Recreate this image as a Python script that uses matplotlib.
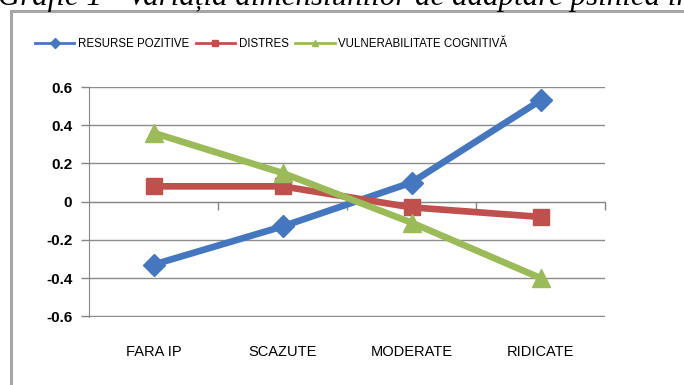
import matplotlib
matplotlib.use("Agg")
import matplotlib.pyplot as plt
from matplotlib.patches import Rectangle
from matplotlib.lines import Line2D
import matplotlib.transforms as mtransforms

categories = ["FARA IP", "SCAZUTE", "MODERATE", "RIDICATE"]
resurse_pozitive = [-0.33, -0.13, 0.10, 0.53]
distres = [0.08, 0.08, -0.03, -0.08]
vulnerabilitate = [0.36, 0.15, -0.11, -0.40]
series_names = ["RESURSE POZITIVE", "DISTRES", "VULNERABILITATE COGNITIVĂ"]
y_ticks = [-0.6, -0.4, -0.2, 0, 0.2, 0.4, 0.6]
title = "Grafic 1 - Variația dimensiunilor de adaptare psihică în funcție de"

plt.rcParams["font.family"] = ["Liberation Sans", "DejaVu Sans"]

fig = plt.figure(figsize=(6.84, 3.85), dpi=100)
W, H = 684, 385

# chart frame, runs off the right and bottom edges
fig.patches.append(Rectangle((11 / W, -0.1), 1.2, 1 - 11 / H + 0.1,
                             transform=fig.transFigure, fill=False,
                             edgecolor="#a6a6a6", lw=2.2))

# caption above the chart, only its lower half fits
fig.text(-2 / W, 1 - 5 / H, title, family="Liberation Serif", style="italic",
         fontsize=22.2, va="baseline", ha="left", color="black")

ax = fig.add_axes([89 / W, 1 - 317 / H, (605 - 89) / W, (317 - 87) / H])
x = list(range(len(categories)))

styles = [
    (resurse_pozitive, "#4577c0", "D", 11),
    (distres, "#c0504d", "s", 12),
    (vulnerabilitate, "#9bbb59", "^", 13),
]
handles = []
for (vals, col, mk, ms), name in zip(styles, series_names):
    ax.plot(x, vals, color=col, lw=4.8, marker=mk, markersize=ms,
            markeredgecolor=col, solid_capstyle="round", zorder=3)
    handles.append(Line2D([], [], color=col, lw=2, marker=mk, markersize=5,
                          markeredgecolor=col, label=name))

ax.set_xlim(-0.5, 3.5)
ax.set_ylim(-0.604, 0.6)
ax.set_yticks(y_ticks)
ax.set_yticklabels([f"{v:g}" for v in y_ticks], fontsize=11, fontweight="bold")
ax.tick_params(axis="y", length=6, width=1, color="#868686", pad=6)
ax.yaxis.grid(True, color="#8c8c8c", lw=1)
ax.set_axisbelow(True)

for side in ("top", "right"):
    ax.spines[side].set_visible(False)
ax.spines["left"].set_color("#868686")
ax.spines["bottom"].set_position(("data", 0))
ax.spines["bottom"].set_color("#868686")
ax.set_xticks([0.5, 1.5, 2.5, 3.5])
ax.set_xticklabels([])
ax.tick_params(axis="x", length=6, width=1, color="#868686", direction="out")

trans = mtransforms.blended_transform_factory(ax.transData, ax.transAxes)
for xi, lab in zip(x, categories):
    ax.text(xi, -35 / 230, lab, transform=trans, ha="center", va="center",
            fontsize=10.5)

fig.legend(handles=handles, loc="center", bbox_to_anchor=(271 / W, 1 - 44 / H),
           ncol=3, frameon=False, fontsize=8.3, handlelength=3.4,
           handletextpad=0.3, columnspacing=0.6)

fig.savefig("out.png", dpi=100)
